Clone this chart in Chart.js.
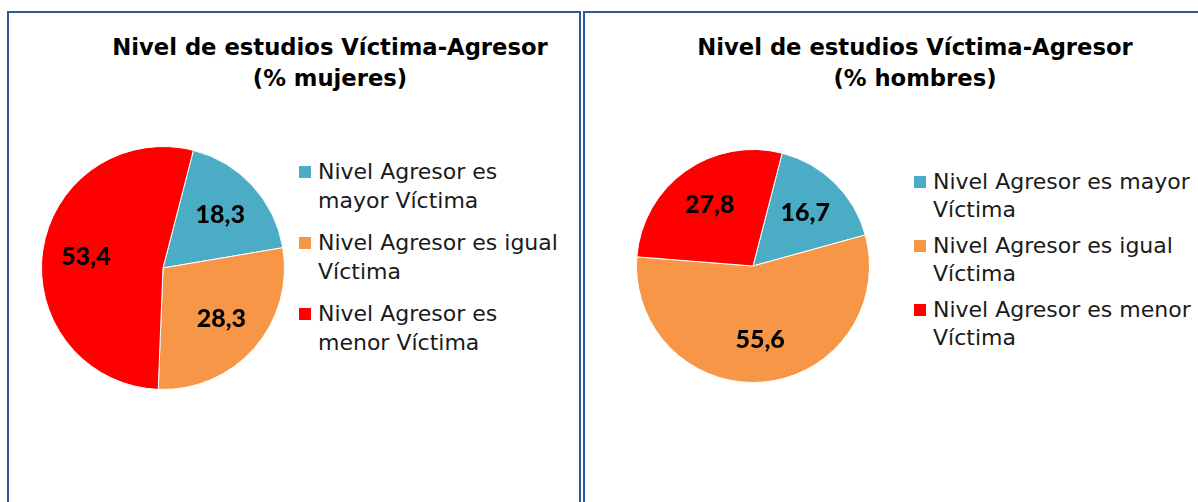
<!DOCTYPE html>
<html>
<head>
<meta charset="utf-8">
<script src="https://cdn.jsdelivr.net/npm/chart.js@4/dist/chart.umd.min.js"></script>
<style>
  html, body { margin: 0; padding: 0; background: #fff; overflow: hidden; }
  body { width: 1198px; height: 502px; position: relative; }
  .panel { position: absolute; box-sizing: border-box; border: 2px solid #30579a; background: #fff; }
  .title { position: absolute; width: 600px; text-align: center; font-family: "DejaVu Sans", sans-serif;
           font-weight: bold; font-size: 22.7px; line-height: 31px; color: #000; white-space: nowrap; }
  .pie { position: absolute; }
  .legend { position: absolute; font-family: "DejaVu Sans", sans-serif; font-size: 22px; color: #1a1a1a; }
  .legend .item { display: flex; align-items: flex-start; }
  .legend .box { width: 12px; height: 12px; flex: none; margin-right: 7px; }
</style>
</head>
<body>
<div class="panel" style="left:7px; top:11px; width:574px; height:600px;"></div>
<div class="panel" style="left:583px; top:11px; width:700px; height:600px;"></div>

<div class="title" style="left:30px; top:32px;">Nivel de estudios Víctima-Agresor<br>(% mujeres)</div>
<div class="title" style="left:615px; top:32px;">Nivel de estudios Víctima-Agresor<br>(% hombres)</div>

<div class="pie" style="left:41px; top:146px; width:244px; height:244px;"><canvas id="chartMujeres"></canvas></div>
<div class="pie" style="left:636px; top:149px; width:234px; height:234px;"><canvas id="chartHombres"></canvas></div>

<div class="legend" id="legendMujeres" style="left:299px; top:157px;"></div>
<div class="legend" id="legendHombres" style="left:914px; top:168px;"></div>

<script>
// categories (same for both charts)
const categories = [
  'Nivel Agresor es mayor Víctima',
  'Nivel Agresor es igual Víctima',
  'Nivel Agresor es menor Víctima'
];
const sliceColors = ['#4bacc6', '#f79646', '#ff0000'];

// % values
const mujeresValues = [18.3, 28.3, 53.4];
const hombresValues = [16.7, 55.6, 27.8];

// draws the value on each slice, decimal comma like the original
const sliceValues = {
  id: 'sliceValues',
  afterDatasetsDraw(chart) {
    const ctx = chart.ctx;
    const values = chart.data.datasets[0].data;
    ctx.save();
    ctx.font = '900 25px Lato, sans-serif';
    ctx.fillStyle = '#000';
    ctx.textAlign = 'center';
    ctx.textBaseline = 'middle';
    chart.getDatasetMeta(0).data.forEach((arc, i) => {
      const p = arc.getProps(['x', 'y', 'startAngle', 'endAngle', 'outerRadius'], true);
      const mid = (p.startAngle + p.endAngle) / 2;
      const r = p.outerRadius * 0.64;
      ctx.fillText(values[i].toFixed(1).replace('.', ','), p.x + Math.cos(mid) * r, p.y + Math.sin(mid) * r);
    });
    ctx.restore();
  }
};

function makePie(canvasId, values) {
  return new Chart(document.getElementById(canvasId), {
    type: 'pie',
    data: {
      labels: categories,
      datasets: [{
        data: values,
        backgroundColor: sliceColors,
        borderColor: '#ffffff',
        borderWidth: 1,
        hoverOffset: 0
      }]
    },
    options: {
      responsive: true,
      maintainAspectRatio: false,
      animation: false,
      events: [],
      rotation: 14.5,
      layout: { padding: 0 },
      plugins: {
        legend: { display: false },
        title: { display: false },
        tooltip: { enabled: false }
      }
    },
    plugins: [sliceValues]
  });
}

// html legend built from the chart's own labels and colours
function buildLegend(chart, legendId, textWidth, lineHeight, gap) {
  const holder = document.getElementById(legendId);
  chart.data.labels.forEach((label, i) => {
    const item = document.createElement('div');
    item.className = 'item';
    item.style.lineHeight = lineHeight + 'px';
    if (i > 0) item.style.marginTop = gap + 'px';
    const box = document.createElement('span');
    box.className = 'box';
    box.style.background = chart.data.datasets[0].backgroundColor[i];
    box.style.marginTop = Math.round((lineHeight - 12) / 2) + 'px';
    const txt = document.createElement('span');
    txt.style.width = textWidth + 'px';
    txt.textContent = label;
    item.appendChild(box);
    item.appendChild(txt);
    holder.appendChild(item);
  });
}

const mujeresChart = makePie('chartMujeres', mujeresValues);
const hombresChart = makePie('chartHombres', hombresValues);
buildLegend(mujeresChart, 'legendMujeres', 250, 29, 13);
buildLegend(hombresChart, 'legendHombres', 300, 28, 8);
</script>
</body>
</html>
